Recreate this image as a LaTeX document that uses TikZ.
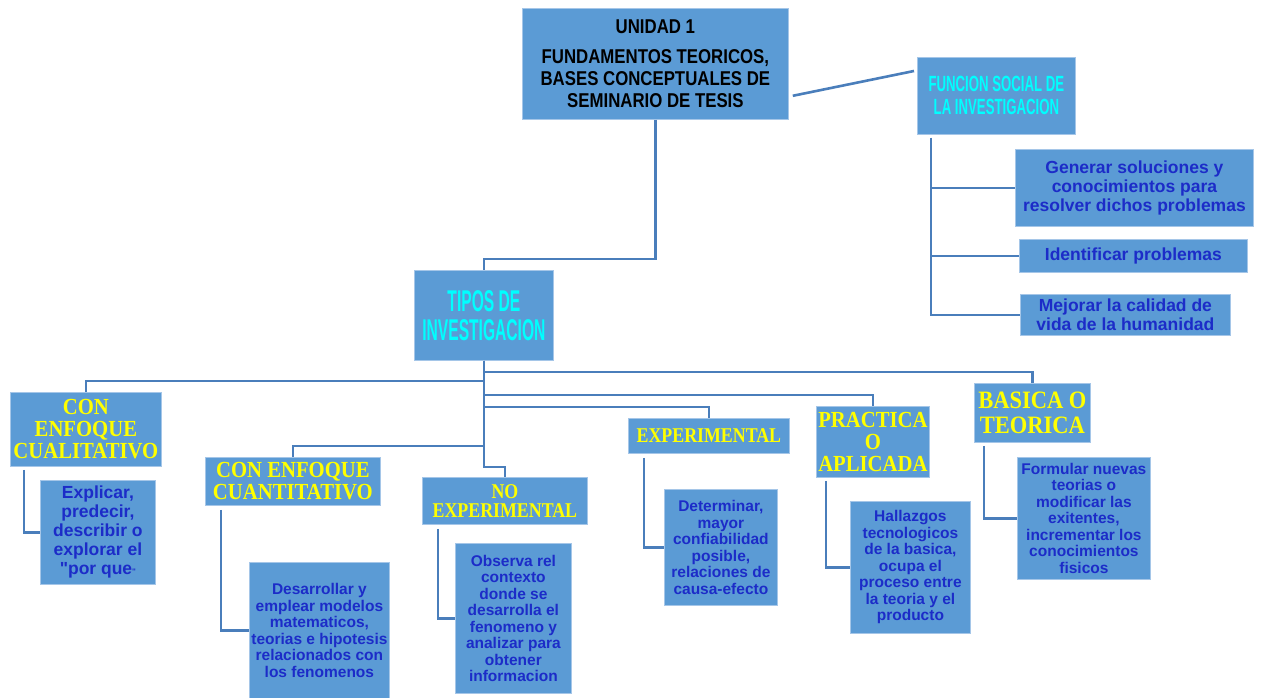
\documentclass[tikz,border=0pt]{standalone}
\usepackage{fontspec}
\setmainfont{Liberation Sans}
\newfontfamily\qfont[Ligatures=TeXOff]{Liberation Sans}
\newfontfamily\narrowfont[FakeStretch=0.6]{Liberation Sans}
\newfontfamily\tiposfont[FakeStretch=0.52]{Liberation Sans}
\newfontfamily\unifont[FakeStretch=0.84]{Liberation Sans}
\newfontfamily\serifb[FakeStretch=0.9]{Liberation Serif}
\newfontfamily\serifn[FakeStretch=0.85]{Liberation Serif}
\usetikzlibrary{calc}
\definecolor{boxfill}{RGB}{91,155,213}
\definecolor{boxedge}{RGB}{165,198,232}
\definecolor{connc}{RGB}{74,126,187}
\definecolor{ytext}{RGB}{255,255,0}
\definecolor{ctext}{RGB}{0,255,255}
\definecolor{btext}{RGB}{28,44,200}
\tikzset{
  box/.style={rectangle, fill=boxfill, draw=boxedge, line width=0.8pt, inner sep=0pt, align=center, anchor=north west},
  body/.style={box, text=btext, font=\bfseries\fontsize{15.5}{16.5}\selectfont},
  bigbody/.style={box, text=btext, font=\bfseries\fontsize{17.5}{19}\selectfont},
  yhead/.style={box, text=ytext, font=\serifb\bfseries\fontsize{23}{22}\selectfont},
  chead/.style={box, text=ctext},
  conn/.style={draw=connc, line width=2.6pt}
}
\begin{document}
\begin{tikzpicture}[x=1pt, y=-1pt]
\useasboundingbox (0,0) rectangle (1266,698);
% top level
\node[box, minimum width=266pt, minimum height=111pt, text=black, font=\unifont\bfseries\fontsize{20}{22}\selectfont] (u) at (522,8)
  {UNIDAD 1\\[8pt]FUNDAMENTOS TEORICOS,\\BASES CONCEPTUALES DE\\SEMINARIO DE TESIS};
\node[chead, minimum width=158pt, minimum height=77pt, font=\narrowfont\bfseries\fontsize{22}{23}\selectfont] (f) at (917,57)
  {FUNCION SOCIAL DE\\LA INVESTIGACION};
\node[bigbody, minimum width=238pt, minimum height=77pt] (gen) at (1015,149)
  {Generar soluciones y\\conocimientos para\\resolver dichos problemas};
\node[bigbody, minimum width=228pt, minimum height=33pt] (idf) at (1019,239)
  {Identificar problemas};
\node[bigbody, minimum width=210pt, minimum height=41pt] (mej) at (1020,294)
  {Mejorar la calidad de\\vida de la humanidad};
\node[chead, minimum width=139pt, minimum height=90pt, font=\tiposfont\bfseries\fontsize{30}{29}\selectfont] (t) at (414,270)
  {TIPOS DE\\INVESTIGACION};
% types
\node[yhead, minimum width=151pt, minimum height=74pt] (q1) at (10,392)
  {CON\\ENFOQUE\\CUALITATIVO};
\node[bigbody, minimum width=115pt, minimum height=104pt] (ex) at (40,480)
  {Explicar,\\predecir,\\describir o\\explorar el\\{\qfont"}por que{\qfont\fontsize{8}{8}\selectfont"}};
\node[yhead, minimum width=175pt, minimum height=48pt] (c) at (205,457)
  {CON ENFOQUE\\CUANTITATIVO};
\node[body, minimum width=140pt, minimum height=136pt] (cq) at (249,562)
  {Desarrollar y\\emplear modelos\\matematicos,\\teorias e hipotesis\\relacionados con\\los fenomenos};
\node[yhead, minimum width=165pt, minimum height=47pt, font=\serifn\bfseries\fontsize{21}{19}\selectfont] (n) at (422,477)
  {NO\\EXPERIMENTAL};
\node[body, minimum width=116pt, minimum height=150pt] (obs) at (455,543)
  {Observa rel\\contexto\\donde se\\desarrolla el\\fenomeno y\\analizar para\\obtener\\informacion};
\node[yhead, minimum width=161pt, minimum height=35pt, font=\serifn\bfseries\fontsize{21}{19}\selectfont] (e) at (628,418)
  {EXPERIMENTAL};
\node[body, minimum width=113pt, minimum height=116pt] (det) at (664,489)
  {Determinar,\\mayor\\confiabilidad\\posible,\\relaciones de\\causa-efecto};
\node[yhead, minimum width=113pt, minimum height=71pt] (p) at (816,406)
  {PRACTICA\\O\\APLICADA};
\node[yhead, minimum width=116pt, minimum height=59pt, font=\serifb\bfseries\fontsize{25}{25}\selectfont] (b) at (974,383)
  {BASICA O\\TEORICA};
\node[body, minimum width=120pt, minimum height=132pt] (hal) at (850,501)
  {Hallazgos\\tecnologicos\\de la basica,\\ocupa el\\proceso entre\\la teoria y el\\producto};
\node[body, minimum width=133pt, minimum height=122pt] (form) at (1017,457)
  {Formular nuevas\\teorias o\\modificar las\\exitentes,\\incrementar los\\conocimientos\\fisicos};
% connectors
\draw[conn] (u.south) -- ++(0,139) -| (t.north);
\draw[conn] ($(u.south east)+(4,-24)$) -- ($(f.north west)+(-3,14)$);
\draw[conn] ($(f.south west)+(14,3)$) |- (gen.west);
\draw[conn] ($(f.south west)+(14,3)$) |- (idf.west);
\draw[conn] ($(f.south west)+(14,3)$) |- (mej.west);
\draw[conn] (t.south) -- ++(0,11) -| (b.north);
\draw[conn] (t.south) -- ++(0,20) -| (q1.north);
\draw[conn] (t.south) -- ++(0,34) -| (p.north);
\draw[conn] (t.south) -- ++(0,46) -| (e.north);
\draw[conn] (t.south) -- ++(0,85) -| (c.north);
\draw[conn] (t.south) -- ++(0,106) -| (n.north);
\draw[conn] ($(q1.south west)+(14,3)$) |- (ex.west);
\draw[conn] ($(c.south west)+(16,4)$) |- (cq.west);
\draw[conn] ($(n.south west)+(16,4)$) |- (obs.west);
\draw[conn] ($(e.south west)+(16,4)$) |- (det.west);
\draw[conn] ($(p.south west)+(10,3)$) |- (hal.west);
\draw[conn] ($(b.south west)+(10,3)$) |- (form.west);
\end{tikzpicture}
\end{document}
